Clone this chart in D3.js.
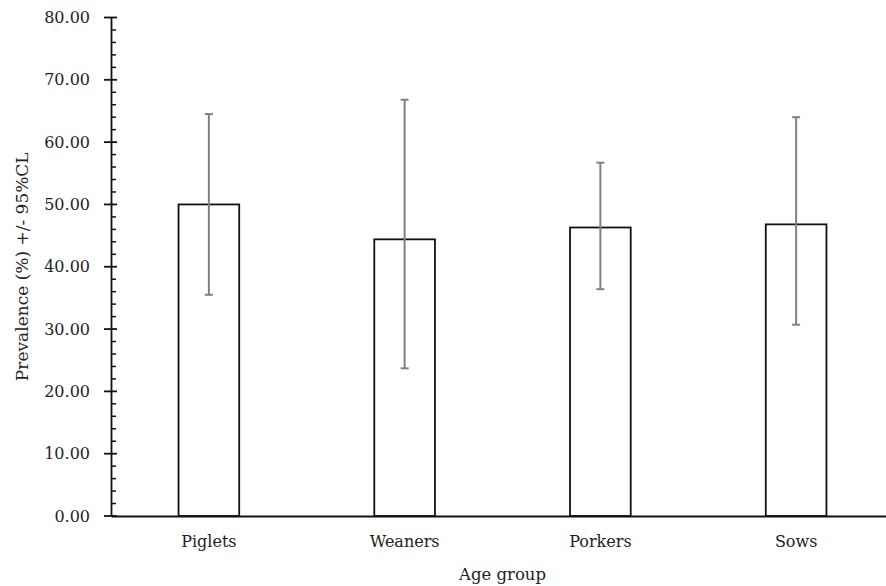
<!DOCTYPE html>
<html>
<head>
<meta charset="utf-8">
<script src="https://cdn.jsdelivr.net/npm/d3@7"></script>
<style>
  body { margin: 0; background: #fff; }
  svg text { font-family: "DejaVu Serif", "Liberation Serif", serif; fill: #222; }
</style>
</head>
<body>
<svg id="chart" width="886" height="586"></svg>
<script>
const groups = ["Piglets", "Weaners", "Porkers", "Sows"];
const prevalence = [50.0, 44.4, 46.3, 46.8];
const lowerCL = [35.5, 23.7, 36.4, 30.7];
const upperCL = [64.5, 66.8, 56.7, 64.0];
const majorTicks = [0, 10, 20, 30, 40, 50, 60, 70, 80];
const minorTicks = d3.range(0, 81, 2).filter(d => d % 10 !== 0);

const margin = { left: 111, right: -8, top: 17.5, bottom: 70 };
const width = 886 - margin.left - margin.right;
const height = 586 - margin.top - margin.bottom;

const svg = d3.select('#chart');
const g = svg.append('g')
  .attr('transform', `translate(${margin.left},${margin.top})`);

const x = d3.scaleBand()
  .domain(groups)
  .range([0, width])
  .paddingInner(0.69)
  .paddingOuter(0.345);

const y = d3.scaleLinear()
  .domain([0, 80])
  .range([height, 0]);

// bars
g.selectAll('.bar')
  .data(groups)
  .enter().append('rect')
  .attr('class', 'bar')
  .attr('x', d => x(d))
  .attr('y', (d, i) => y(prevalence[i]))
  .attr('width', x.bandwidth())
  .attr('height', (d, i) => y(0) - y(prevalence[i]))
  .attr('fill', '#fff')
  .attr('stroke', '#111')
  .attr('stroke-width', 1.8);

// error bars
const err = g.selectAll('.err')
  .data(groups)
  .enter().append('g')
  .attr('class', 'err')
  .attr('transform', d => `translate(${x(d) + x.bandwidth() / 2},0)`);

err.append('line')
  .attr('y1', (d, i) => y(lowerCL[i]))
  .attr('y2', (d, i) => y(upperCL[i]))
  .attr('stroke', '#808080')
  .attr('stroke-width', 2);

err.selectAll('.cap')
  .data((d, i) => [lowerCL[i], upperCL[i]])
  .enter().append('line')
  .attr('x1', -4).attr('x2', 4)
  .attr('y1', d => y(d)).attr('y2', d => y(d))
  .attr('stroke', '#808080')
  .attr('stroke-width', 2);

// y axis
const yAxis = g.append('g')
  .call(d3.axisLeft(y).tickValues(majorTicks).tickFormat(d3.format('.2f')).tickSize(0).tickPadding(21));
yAxis.select('.domain').attr('stroke', '#111').attr('stroke-width', 1.8);
yAxis.selectAll('text').style('font-size', '16px');

g.selectAll('.major')
  .data(majorTicks)
  .enter().append('line')
  .attr('x1', -7).attr('x2', 6)
  .attr('y1', d => y(d)).attr('y2', d => y(d))
  .attr('stroke', '#111').attr('stroke-width', 1.8);

g.selectAll('.minor')
  .data(minorTicks)
  .enter().append('line')
  .attr('x1', 0).attr('x2', 5)
  .attr('y1', d => y(d)).attr('y2', d => y(d))
  .attr('stroke', '#111').attr('stroke-width', 1.5);

// x axis
const xAxis = g.append('g')
  .attr('transform', `translate(0,${height})`)
  .call(d3.axisBottom(x).tickSize(0).tickPadding(20).tickSizeOuter(0));
xAxis.select('.domain').attr('stroke', '#111').attr('stroke-width', 1.8);
xAxis.selectAll('text').style('font-size', '16px');

// axis titles
svg.append('text')
  .attr('x', margin.left + width / 2)
  .attr('y', 580)
  .attr('text-anchor', 'middle')
  .style('font-size', '16.5px')
  .text('Age group');

svg.append('text')
  .attr('transform', `translate(28,${margin.top + height / 2}) rotate(-90)`)
  .attr('text-anchor', 'middle')
  .style('font-size', '17px')
  .text('Prevalence (%) +/- 95%CL');
</script>
</body>
</html>
